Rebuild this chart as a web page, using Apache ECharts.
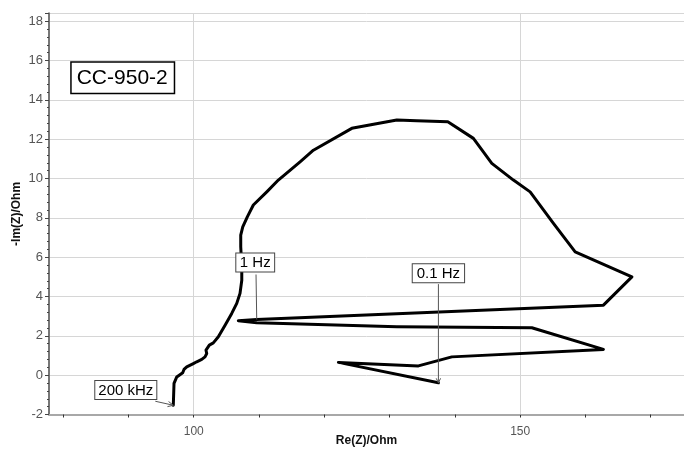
<!DOCTYPE html>
<html>
<head>
<meta charset="utf-8">
<script src="https://cdn.jsdelivr.net/npm/echarts@6/dist/echarts.min.js"></script>
<style>
  html, body { margin: 0; padding: 0; background: #fff; }
  #chart { width: 684px; height: 449px; }
</style>
</head>
<body>
<div id="chart"></div>
<script>
// Nyquist plot of sample CC-950-2, traced from 200 kHz down to 0.1 Hz
const reZ = [
  96.87, 96.98, 97.40, 98.31, 98.51, 98.93, 99.94, 100.46, 101.23, 101.73,
  101.99, 101.88, 102.39, 103.00, 103.77, 104.80, 105.82, 106.59, 107.09, 107.36,
  107.36, 107.20, 107.20, 107.51, 108.21, 109.13, 111.19, 112.96, 116.29, 118.33,
  124.21, 131.11, 134.17, 138.92, 142.84, 145.66, 148.97, 151.53, 155.10, 158.43,
  167.12, 162.76, 109.65, 106.83, 109.65, 131.11, 151.79, 162.76, 139.53, 134.42,
  122.16, 137.48
];
const imZ = [
  -1.53, -0.42, -0.09, 0.12, 0.29, 0.42, 0.59, 0.68, 0.80, 0.93,
  1.10, 1.27, 1.53, 1.64, 1.95, 2.54, 3.14, 3.65, 4.16, 4.83,
  5.51, 6.53, 7.12, 7.54, 8.05, 8.65, 9.32, 9.92, 10.85, 11.44,
  12.55, 12.97, 12.94, 12.89, 12.04, 10.77, 9.92, 9.32, 7.72, 6.27,
  5.00, 3.56, 2.83, 2.77, 2.66, 2.46, 2.41, 1.31, 0.93, 0.47,
  0.65, -0.39
];

// frequency markers along the curve
const freqLabels = ['200 kHz', '1 Hz', '0.1 Hz'];
const freqRe = [96.87, 109.65, 137.48];
const freqIm = [-1.53, 2.83, -0.39];

// axis ticks and labels
const xTickValues = [80, 90, 100, 110, 120, 130, 140, 150, 160, 170];
const xLabelValues = [100, 150];
const xGridValues = [100, 150];

const sampleName = 'CC-950-2';

const points = reZ.map((x, i) => [x, imZ[i]]);

const chart = echarts.init(document.getElementById('chart'), null, { renderer: 'canvas' });

const FONT = '"Liberation Sans", Arial, sans-serif';

chart.setOption({
  animation: false,
  backgroundColor: '#ffffff',
  grid: { left: 49, top: 13.3, right: 0, bottom: 34.5, containLabel: false, outerBoundsMode: 'none' },
  xAxis: {
    type: 'value',
    min: 77.83,
    max: 175.1,
    name: 'Re(Z)/Ohm',
    nameLocation: 'middle',
    nameGap: 20,
    nameMoveOverlap: false,
    nameTextStyle: { fontFamily: FONT, fontSize: 12, fontWeight: 'bold', color: '#111' },
    axisLine: { show: true, onZero: false, lineStyle: { color: '#a8a8a8', width: 2 } },
    axisTick: { show: true, customValues: xTickValues, length: 3, lineStyle: { color: '#333', width: 1 } },
    axisLabel: { customValues: xLabelValues, margin: 11, fontFamily: FONT, fontSize: 12, color: '#555' },
    splitLine: { show: false },
    minorTick: { show: false }
  },
  yAxis: {
    type: 'value',
    min: -2,
    max: 18.4,
    interval: 2,
    name: '-Im(Z)/Ohm',
    nameLocation: 'middle',
    nameRotate: 90,
    nameGap: 26,
    nameMoveOverlap: false,
    nameTextStyle: { fontFamily: FONT, fontSize: 12, fontWeight: 'bold', color: '#111' },
    axisLine: { show: true, onZero: false, lineStyle: { color: '#777', width: 2 } },
    axisTick: { show: true, length: 4, lineStyle: { color: '#444', width: 1 } },
    minorTick: { show: true, splitNumber: 5, length: 2, lineStyle: { color: '#444', width: 1 } },
    axisLabel: { showMaxLabel: false, margin: 6, fontFamily: FONT, fontSize: 13, color: '#555' },
    splitLine: { show: true, lineStyle: { color: '#d6d6d6', width: 1 } }
  },
  series: [
    {
      type: 'line',
      data: points,
      showSymbol: false,
      symbol: 'none',
      smooth: false,
      lineStyle: { color: '#000', width: 3, join: 'round', cap: 'round' },
      z: 5,
      markLine: {
        silent: true,
        symbol: 'none',
        label: { show: false },
        lineStyle: { color: '#d6d6d6', width: 1, type: 'solid' },
        data: xGridValues.map(v => ({ xAxis: v })),
        z: 1
      }
    }
  ]
});

// annotation boxes, placed relative to the data points they point at
function box(cx, top, text, fontSize, padX, padY, stroke, lw) {
  return [
    {
      type: 'text',
      z: 20,
      style: {
        x: cx, y: top,
        text: text,
        align: 'center',
        verticalAlign: 'top',
        font: fontSize + 'px ' + FONT,
        fill: '#000',
        backgroundColor: '#fff',
        borderColor: stroke,
        borderWidth: lw,
        padding: [padY, padX, padY - 1, padX]
      }
    }
  ];
}

function arrowHead(x, y, angle, size) {
  const a1 = angle + Math.PI - 0.45, a2 = angle + Math.PI + 0.45;
  return {
    type: 'polyline', z: 19,
    shape: { points: [[x + size * Math.cos(a1), y + size * Math.sin(a1)], [x, y], [x + size * Math.cos(a2), y + size * Math.sin(a2)]] },
    style: { stroke: '#555', lineWidth: 1, fill: null }
  };
}

const els = [];
const anchors = freqRe.map((x, i) => chart.convertToPixel({ gridIndex: 0 }, [x, freqIm[i]]));

// 200 kHz: box to the lower left, pointer from its corner
{
  const [ax, ay] = anchors[0];
  const bx = ax - 47.5, btop = ay - 24.3;
  els.push(...box(bx, btop, freqLabels[0], 15, 3, 2, '#444', 1));
  const sx = ax - 18, sy = ay - 4;
  els.push({ type: 'line', z: 19, shape: { x1: sx, y1: sy, x2: ax, y2: ay }, style: { stroke: '#555', lineWidth: 1 } });
  els.push(arrowHead(ax, ay, Math.atan2(ay - sy, ax - sx), 6));
}
// 1 Hz: box above, vertical pointer
{
  const [ax, ay] = anchors[1];
  const bx = ax - 1.5, btop = ay - 66;
  els.push(...box(bx, btop, freqLabels[1], 15, 3.5, 2, '#444', 1));
  els.push({ type: 'line', z: 19, shape: { x1: ax - 0.7, y1: btop + 21, x2: ax, y2: ay }, style: { stroke: '#555', lineWidth: 1 } });
}
// 0.1 Hz: box high above, long vertical pointer with arrow
{
  const [ax, ay] = anchors[2];
  const bx = ax, btop = ay - 118.7;
  els.push(...box(bx, btop, freqLabels[2], 15, 4, 2, '#444', 1));
  els.push({ type: 'line', z: 19, shape: { x1: ax, y1: btop + 20, x2: ax, y2: ay }, style: { stroke: '#555', lineWidth: 1 } });
  els.push(arrowHead(ax, ay, Math.PI / 2, 5));
}
// sample name tag
els.push({
  type: 'text', z: 20,
  style: {
    x: 71.7, y: 62.7,
    text: sampleName,
    align: 'left', verticalAlign: 'top',
    font: '21px ' + FONT,
    fill: '#000',
    backgroundColor: '#fff',
    borderColor: '#000',
    borderWidth: 1.5,
    padding: [5, 6, 4, 5]
  }
});

chart.setOption({ graphic: els });
</script>
</body>
</html>
